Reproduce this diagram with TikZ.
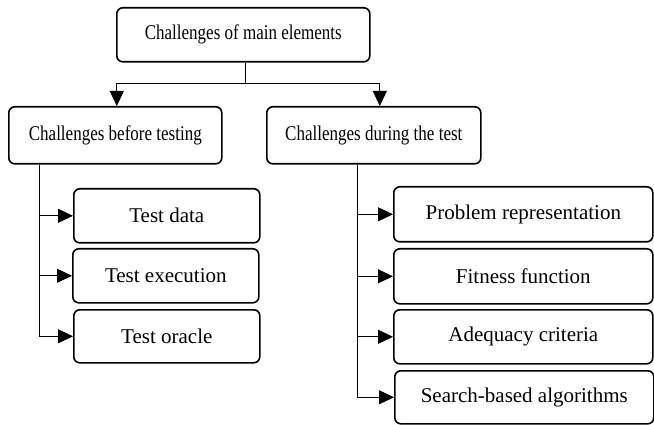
\documentclass[tikz,border=0pt]{standalone}
\usepackage{fontspec}
\usepackage{graphicx}
\setmainfont{Liberation Serif}
\newfontfamily\tmsfont{Liberation Serif}
\usetikzlibrary{arrows.meta}
\newcommand{\narrow}[1]{\scalebox{0.81}[1]{#1}}
\begin{document}
\begin{tikzpicture}[x=1pt,y=-1pt,
  box/.style={draw,line width=1.6pt,rounded corners=6pt,inner sep=0pt,
    font=\tmsfont\fontsize{21}{24}\selectfont,anchor=north west},
  conn/.style={line width=0.8pt},
  arr/.style={conn,-{Triangle[length=15pt,width=14pt]}}]
\useasboundingbox (0,0) rectangle (654,425);
% top level
\node[box,minimum width=253pt,minimum height=54pt] (top) at (116,7) {\narrow{Challenges of main elements}};
\node[box,minimum width=213pt,minimum height=57pt] (bef) at (8,106) {\narrow{Challenges before testing}};
\node[box,minimum width=214pt,minimum height=57pt] (dur) at (266,106) {\narrow{Challenges during the test}};
% left children
\node[box,minimum width=186pt,minimum height=54pt] (td) at (73,188) {Test data};
\node[box,minimum width=186pt,minimum height=54pt] (te) at (72,248) {Test execution};
\node[box,minimum width=186pt,minimum height=53pt] (to) at (73,309) {Test oracle};
% right children
\node[box,minimum width=259pt,minimum height=55pt] (pr) at (393,186) {Problem representation};
\node[box,minimum width=259pt,minimum height=55pt] (ff) at (393,248) {Fitness function};
\node[box,minimum width=259pt,minimum height=54pt] (ac) at (393,309) {Adequacy criteria};
\node[box,minimum width=259pt,minimum height=53pt] (sb) at (394,370) {Search-based algorithms};
% connectors
\coordinate (j) at ([xshift=2pt]top.south |- 0,83);
\draw[conn] ([xshift=2pt]top.south) -- (j);
\draw[arr] (j) -| ([xshift=1.5pt]bef.north);
\draw[arr] (j) -| ([xshift=6pt]dur.north);
\coordinate (lv) at ([xshift=31pt]bef.south west);
\draw[arr] (lv) |- (td.west);
\draw[arr] (lv) |- (te.west);
\draw[arr] (lv) |- (to.west);
\coordinate (rv) at ([xshift=91pt]dur.south west);
\draw[arr] (rv) |- (pr.west);
\draw[arr] (rv) |- (ff.west);
\draw[arr] (rv) |- (ac.west);
\draw[arr] (rv) |- (sb.west);
\end{tikzpicture}
\end{document}
